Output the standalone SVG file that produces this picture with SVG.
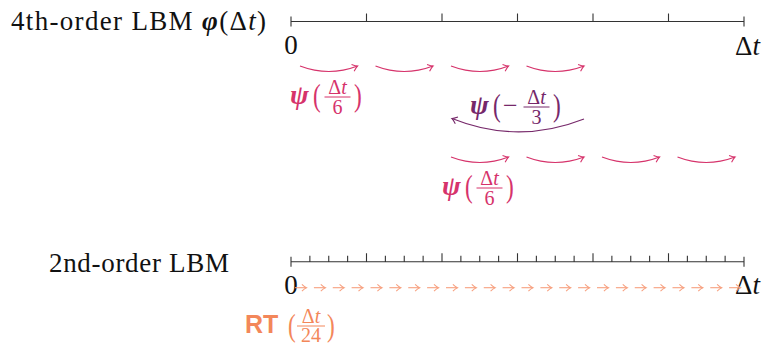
<svg xmlns="http://www.w3.org/2000/svg" width="763" height="347" viewBox="0 0 763 347">
<style>
.t{font-family:"Liberation Serif","Times New Roman",serif;fill:#111}
.ax{stroke:#333;stroke-width:1.1;fill:none}
.pk{stroke:#d6336b;stroke-width:1.1;fill:none;marker-end:url(#hp)}
.pu{stroke:#76286a;stroke-width:1.1;fill:none;marker-end:url(#hu)}
.or{stroke:#f7a07f;stroke-width:1.1;fill:none;marker-end:url(#ho)}
.lp{font-family:"Liberation Serif","Times New Roman",serif;fill:#d6336b}
.lu{font-family:"Liberation Serif","Times New Roman",serif;fill:#76286a}
.lo{font-family:"Liberation Serif","Times New Roman",serif;fill:#f3875a}
.ls{font-family:"Liberation Sans",Arial,sans-serif;font-weight:bold;fill:#f3875a}
.bi{font-weight:bold;font-style:italic}
.it{font-style:italic}
.fr{font-size:20px;text-anchor:middle}
.pa{font-size:31px}
</style>
<defs>
<marker id="hp" markerUnits="userSpaceOnUse" viewBox="-7 -5 8 10" markerWidth="8" markerHeight="10" refX="0" refY="0" orient="auto" overflow="visible"><path d="M-5,-3.6 Q-1.5,-0.6 0,0 Q-1.5,0.6 -5,3.6" fill="none" stroke="#d6336b" stroke-width="1.1"/></marker>
<marker id="hu" markerUnits="userSpaceOnUse" viewBox="-7 -5 8 10" markerWidth="8" markerHeight="10" refX="0" refY="0" orient="auto" overflow="visible"><path d="M-5,-3.6 Q-1.5,-0.6 0,0 Q-1.5,0.6 -5,3.6" fill="none" stroke="#76286a" stroke-width="1.1"/></marker>
<marker id="ho" markerUnits="userSpaceOnUse" viewBox="-7 -5 8 10" markerWidth="8" markerHeight="10" refX="0" refY="0" orient="auto" overflow="visible"><path d="M-4.5,-3.4 Q-1.5,-0.6 0,0 Q-1.5,0.6 -4.5,3.4" fill="none" stroke="#f7a07f" stroke-width="1.1"/></marker>
</defs>

<g id="label-4th">
<text class="t" x="11" y="30" font-size="27" textLength="255" lengthAdjust="spacing">4th-order LBM <tspan class="bi">φ</tspan>(Δ<tspan class="it">t</tspan>)</text>
</g>
<g id="axis-4th">
<path class="ax" d="M291,21.5H744M291,16.5V26.5M744,16.5V26.5M366.5,13.5V21.5M442,13.5V21.5M517.5,13.5V21.5M593,13.5V21.5M668.5,13.5V21.5"/>
<text class="t" x="291" y="54" font-size="27" text-anchor="middle">0</text>
<text class="t" x="760" y="55" font-size="27" text-anchor="end">Δ<tspan class="it">t</tspan></text>
</g>

<g id="label-2nd">
<text class="t" x="49" y="272" font-size="27" textLength="180" lengthAdjust="spacing">2nd-order LBM</text>
</g>
<g id="axis-2nd">
<path class="ax" d="M291,261.7H744M291,256.7V266.7M744,256.7V266.7
M366.5,253.3V261.7M442,253.3V261.7M517.5,253.3V261.7M593,253.3V261.7M668.5,253.3V261.7
M309.875,255.7V261.7M328.75,255.7V261.7M347.625,255.7V261.7
M385.375,255.7V261.7M404.25,255.7V261.7M423.125,255.7V261.7
M460.875,255.7V261.7M479.75,255.7V261.7M498.625,255.7V261.7
M536.375,255.7V261.7M555.25,255.7V261.7M574.125,255.7V261.7
M611.875,255.7V261.7M630.75,255.7V261.7M649.625,255.7V261.7
M687.375,255.7V261.7M706.25,255.7V261.7M725.125,255.7V261.7"/>
<text class="t" x="291" y="294" font-size="27" text-anchor="middle">0</text>
<text class="t" x="760" y="294" font-size="27" text-anchor="end">Δ<tspan class="it">t</tspan></text>
</g>

<g id="connectors">
<path class="pk" d="M300,66Q329,77 357.5,66"/>
<path class="pk" d="M375.5,66Q404,77 433,66"/>
<path class="pk" d="M451,66Q480,77 508.5,66"/>
<path class="pk" d="M526.5,66Q555,77 584,66"/>
<path class="pu" d="M584,119Q518,145 452,118.5"/>
<path class="pk" d="M451,157Q480,168 508.5,157"/>
<path class="pk" d="M526.5,157Q555,168 584,157"/>
<path class="pk" d="M602,157Q631,168 659.5,157"/>
<path class="pk" d="M677.5,157Q706,168 735,157"/>
<line class="or" x1="295" y1="287.7" x2="306.4" y2="287.7"/>
<line class="or" x1="313.9" y1="287.7" x2="325.3" y2="287.7"/>
<line class="or" x1="332.75" y1="287.7" x2="344.1" y2="287.7"/>
<line class="or" x1="351.6" y1="287.7" x2="363" y2="287.7"/>
<line class="or" x1="370.5" y1="287.7" x2="381.9" y2="287.7"/>
<line class="or" x1="389.4" y1="287.7" x2="400.75" y2="287.7"/>
<line class="or" x1="408.25" y1="287.7" x2="419.6" y2="287.7"/>
<line class="or" x1="427.1" y1="287.7" x2="438.5" y2="287.7"/>
<line class="or" x1="446" y1="287.7" x2="457.4" y2="287.7"/>
<line class="or" x1="464.9" y1="287.7" x2="476.25" y2="287.7"/>
<line class="or" x1="483.75" y1="287.7" x2="495.1" y2="287.7"/>
<line class="or" x1="502.6" y1="287.7" x2="514" y2="287.7"/>
<line class="or" x1="521.5" y1="287.7" x2="532.9" y2="287.7"/>
<line class="or" x1="540.4" y1="287.7" x2="551.75" y2="287.7"/>
<line class="or" x1="559.25" y1="287.7" x2="570.6" y2="287.7"/>
<line class="or" x1="578.1" y1="287.7" x2="589.5" y2="287.7"/>
<line class="or" x1="597" y1="287.7" x2="608.4" y2="287.7"/>
<line class="or" x1="615.9" y1="287.7" x2="627.25" y2="287.7"/>
<line class="or" x1="634.75" y1="287.7" x2="646.1" y2="287.7"/>
<line class="or" x1="653.6" y1="287.7" x2="665" y2="287.7"/>
<line class="or" x1="672.5" y1="287.7" x2="683.9" y2="287.7"/>
<line class="or" x1="691.4" y1="287.7" x2="702.75" y2="287.7"/>
<line class="or" x1="710.25" y1="287.7" x2="721.6" y2="287.7"/>
<line class="or" x1="729.1" y1="287.7" x2="740.5" y2="287.7"/>
</g>

<g id="label-psi1">
<text class="lp bi" x="290" y="104" font-size="28">ψ</text>
<text class="lp pa" transform="translate(313,106) scale(0.75,1)">(</text>
<text class="lp fr" x="337.5" y="93.5">Δ<tspan class="it">t</tspan></text>
<line x1="324.5" y1="97" x2="350.5" y2="97" stroke="#d6336b" stroke-width="1"/>
<text class="lp fr" x="337.5" y="113.5">6</text>
<text class="lp pa" transform="translate(354,106) scale(0.75,1)">)</text>
</g>

<g id="label-psi-minus">
<text class="lu bi" x="470" y="114" font-size="28">ψ</text>
<text class="lu pa" transform="translate(493,116) scale(0.75,1)">(</text>
<text class="lu" x="503" y="114" font-size="26">−</text>
<text class="lu fr" x="536.5" y="103.5">Δ<tspan class="it">t</tspan></text>
<line x1="523.5" y1="107" x2="549.5" y2="107" stroke="#76286a" stroke-width="1"/>
<text class="lu fr" x="536.5" y="123.5">3</text>
<text class="lu pa" transform="translate(553,116) scale(0.75,1)">)</text>
</g>

<g id="label-psi2" transform="translate(152,91)">
<text class="lp bi" x="290" y="104" font-size="28">ψ</text>
<text class="lp pa" transform="translate(313,106) scale(0.75,1)">(</text>
<text class="lp fr" x="337.5" y="93.5">Δ<tspan class="it">t</tspan></text>
<line x1="324.5" y1="97" x2="350.5" y2="97" stroke="#d6336b" stroke-width="1"/>
<text class="lp fr" x="337.5" y="113.5">6</text>
<text class="lp pa" transform="translate(354,106) scale(0.75,1)">)</text>
</g>

<g id="label-rt">
<text class="ls" x="245" y="333" font-size="25">RT</text>
<text class="lo pa" transform="translate(288,336) scale(0.75,1)">(</text>
<text class="lo fr" x="311" y="322.5">Δ<tspan class="it">t</tspan></text>
<line x1="297" y1="326" x2="325" y2="326" stroke="#f3875a" stroke-width="1"/>
<text class="lo fr" x="311" y="342">24</text>
<text class="lo pa" transform="translate(327,336) scale(0.75,1)">)</text>
</g>
</svg>
